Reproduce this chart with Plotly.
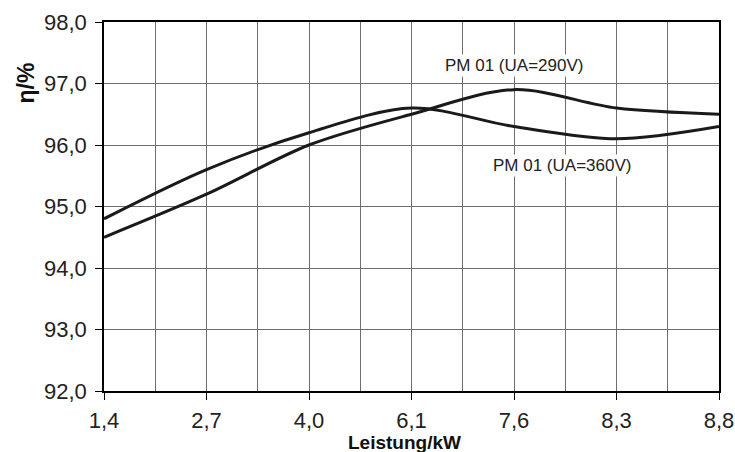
import plotly.graph_objects as go

categories = ["1,4", "2,7", "4,0", "6,1", "7,6", "8,3", "8,8"]
eta_360 = [94.8, 95.6, 96.2, 96.6, 96.3, 96.1, 96.3]
eta_290 = [94.5, 95.2, 96.0, 96.5, 96.9, 96.6, 96.5]
y_ticks = [92, 93, 94, 95, 96, 97, 98]

xpos = list(range(len(categories)))
line_color = "#1a1a1a"

fig = go.Figure()
fig.add_trace(go.Scatter(x=xpos, y=eta_360, mode="lines",
                         line=dict(color=line_color, width=3, shape="spline", smoothing=0.9),
                         name="PM 01 (UA=360V)", showlegend=False))
fig.add_trace(go.Scatter(x=xpos, y=eta_290, mode="lines",
                         line=dict(color=line_color, width=3, shape="spline", smoothing=0.9),
                         name="PM 01 (UA=290V)", showlegend=False))

font_family = "Liberation Sans, Arial, sans-serif"
L, R, T, B = 103.5, 16, 22, 61
W, H = 735, 452
pw = W - L - R
ph = H - T - B

fig.update_layout(
    width=W, height=H,
    margin=dict(l=L, r=R, t=T, b=B, autoexpand=False),
    paper_bgcolor="white", plot_bgcolor="white",
    separators=",.",
    font=dict(family=font_family, color="#222", size=22),
    xaxis=dict(
        range=[0, len(categories) - 1],
        tickvals=xpos, ticktext=categories,
        showgrid=True, gridcolor="#6e6e6e", gridwidth=1,
        minor=dict(dtick=0.5, tick0=0, showgrid=True, gridcolor="#6e6e6e", gridwidth=1, ticks=""),
        showline=True, linecolor="black", linewidth=1.5, mirror=True,
        ticks="outside", ticklen=7, tickcolor="black", tickwidth=1,
        tickfont=dict(size=22, color="#222"), ticklabelstandoff=2,
        zeroline=False, automargin=False,
    ),
    yaxis=dict(
        range=[92, 98], tickvals=y_ticks, tickformat=".1f",
        showgrid=True, gridcolor="#6e6e6e", gridwidth=1,
        showline=True, linecolor="black", linewidth=1.5, mirror=True,
        ticks="outside", ticklen=7, tickcolor="black", tickwidth=1,
        tickfont=dict(size=22, color="#222"), ticklabelstandoff=4,
        zeroline=False, automargin=False,
    ),
    annotations=[
        dict(text="PM 01 (UA=290V)", x=4, y=97.3, xref="x", yref="y",
             showarrow=False, bgcolor="white", font=dict(size=17, color="#222"),
             xanchor="center", yanchor="middle"),
        dict(text="PM 01 (UA=360V)", x=4.47, y=95.66, xref="x", yref="y",
             showarrow=False, bgcolor="white", font=dict(size=17, color="#222"),
             xanchor="center", yanchor="middle"),
        dict(text="<b>Leistung/kW</b>", x=(404 - L) / pw, y=1 - (442.5 - T) / ph,
             xref="paper", yref="paper", xanchor="center", yanchor="middle",
             showarrow=False, font=dict(size=19, color="#111")),
        dict(text="<b>η/%</b>", x=(25 - L) / pw, y=1 - (83 - T) / ph,
             xref="paper", yref="paper", xanchor="center", yanchor="middle",
             showarrow=False, textangle=-90, font=dict(size=23, color="#111")),
    ],
)

fig.write_html("out.html", config={"displayModeBar": False},
               post_script="document.body.style.margin='0';document.body.style.padding='0';")
